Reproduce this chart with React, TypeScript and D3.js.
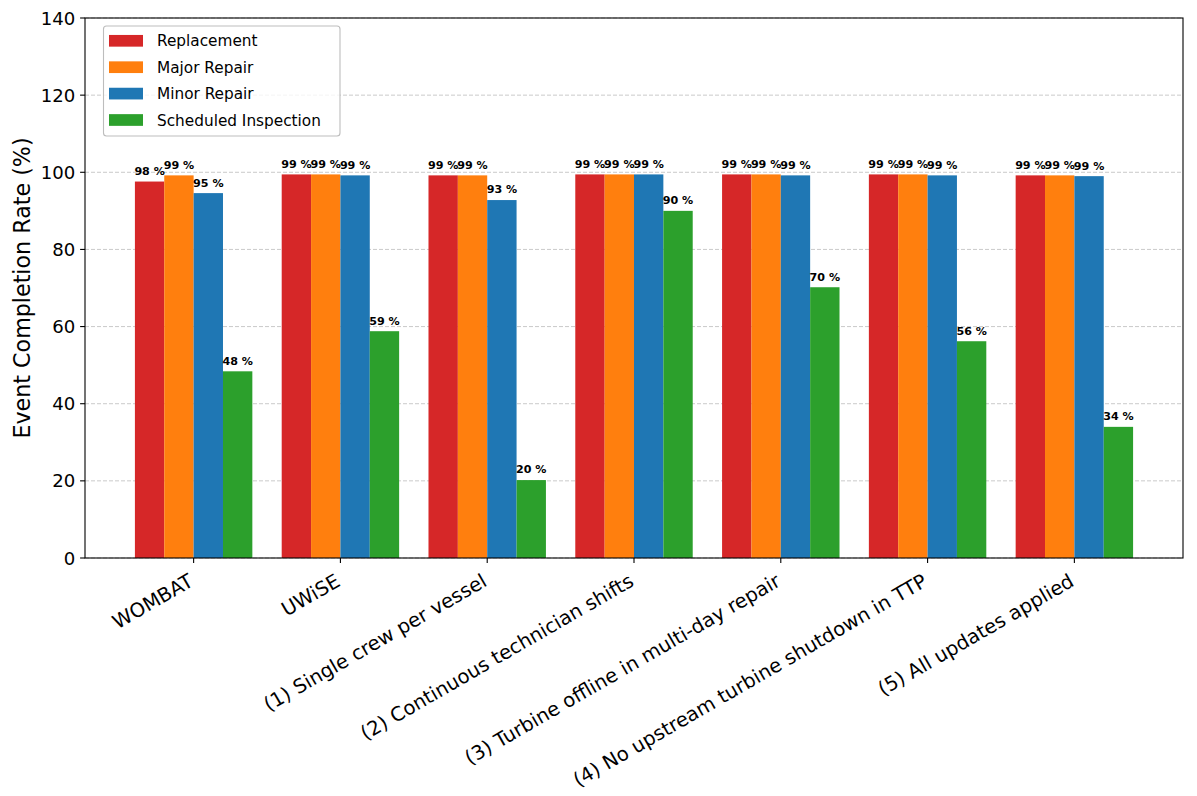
import React from 'react';
import * as d3 from 'd3';

const categories = [
  'WOMBAT',
  'UWiSE',
  '(1) Single crew per vessel',
  '(2) Continuous technician shifts',
  '(3) Turbine offline in multi-day repair',
  '(4) No upstream turbine shutdown in TTP',
  '(5) All updates applied',
];
const seriesNames = ['Replacement', 'Major Repair', 'Minor Repair', 'Scheduled Inspection'];
const seriesColors = ['#d62728', '#ff7f0e', '#1f77b4', '#2ca02c'];
const replacement = [97.6, 99.45, 99.2, 99.45, 99.45, 99.45, 99.2];
const majorRepair = [99.2, 99.45, 99.2, 99.45, 99.45, 99.45, 99.2];
const minorRepair = [94.6, 99.2, 92.8, 99.45, 99.2, 99.2, 99.0];
const scheduledInspection = [48.4, 58.8, 20.2, 90.0, 70.2, 56.2, 34.0];
const yTicks = [0, 20, 40, 60, 80, 100, 120, 140];

const W = 1197;
const H = 796;
const left = 85;
const right = 1183;
const top = 18;
const bottom = 558;
const barW = 0.2;
const FONT = "'DejaVu Sans', sans-serif";

export default function App() {
  const series = [replacement, majorRepair, minorRepair, scheduledInspection];
  const x = d3.scaleLinear().domain([-0.74, categories.length - 1 + 0.74]).range([left, right]);
  const y = d3.scaleLinear().domain([0, 140]).range([bottom, top]);
  const unit = x(1) - x(0);

  return (
    <svg
      width={W}
      height={H}
      style={{ position: 'absolute', left: 0, top: 0, background: '#fff' }}
      fontFamily={FONT}
    >
      <rect x={0} y={0} width={W} height={H} fill="#fff" />
      {/* grid */}
      {yTicks.map((t) => (
        <line
          key={'g' + t}
          x1={left}
          x2={right}
          y1={y(t)}
          y2={y(t)}
          stroke="#b0b0b0"
          strokeOpacity={0.75}
          strokeWidth={0.9}
          strokeDasharray="4,2"
        />
      ))}
      {/* bars */}
      {series.map((vals, s) =>
        vals.map((v, i) => {
          const cx = x(i + (s - 1.5) * barW);
          return (
            <rect
              key={`b${s}-${i}`}
              x={cx - (barW * unit) / 2}
              y={y(v)}
              width={barW * unit}
              height={y(0) - y(v)}
              fill={seriesColors[s]}
            />
          );
        })
      )}
      {/* bar labels */}
      {series.map((vals, s) =>
        vals.map((v, i) => {
          const cx = x(i + (s - 1.5) * barW);
          return (
            <text
              key={`l${s}-${i}`}
              x={cx}
              y={y(v) - 6.6}
              textAnchor="middle"
              fontSize={11.1}
              fontWeight="bold"
              fill="#000"
            >
              {`${Math.round(v)} %`}
            </text>
          );
        })
      )}
      {/* spines */}
      <rect x={left} y={top} width={right - left} height={bottom - top} fill="none" stroke="#000" strokeWidth={1.1} />
      {/* y ticks */}
      {yTicks.map((t) => (
        <g key={'y' + t}>
          <line x1={left - 4.9} x2={left} y1={y(t)} y2={y(t)} stroke="#000" strokeWidth={1.1} />
          <text x={left - 9.8} y={y(t)} dy="0.36em" textAnchor="end" fontSize={18.1} fill="#000">
            {t}
          </text>
        </g>
      ))}
      {/* x ticks */}
      {categories.map((c, i) => (
        <g key={'x' + i}>
          <line x1={x(i)} x2={x(i)} y1={bottom} y2={bottom + 4.9} stroke="#000" strokeWidth={1.1} />
          <text
            transform={`translate(${x(i) + 1},${bottom + 27}) rotate(-30)`}
            textAnchor="end"
            fontSize={19.6}
            fill="#000"
          >
            {c}
          </text>
        </g>
      ))}
      {/* y label */}
      <text
        transform={`translate(${29.5},${(top + bottom) / 2}) rotate(-90)`}
        textAnchor="middle"
        fontSize={22.2}
        fill="#000"
      >
        Event Completion Rate (%)
      </text>
      {/* legend */}
      <g>
        <rect x={103.5} y={26} width={236.5} height={110} rx={3} fill="#fff" fillOpacity={0.8} stroke="#bdbdbd" strokeWidth={1.1} />
        {seriesNames.map((n, k) => {
          const cy = 40.8 + k * 26.4;
          return (
            <g key={'lg' + k}>
              <rect x={109} y={cy - 5.85} width={34} height={11.7} fill={seriesColors[k]} />
              <text x={157} y={cy} dy="0.36em" fontSize={15.3} fill="#000">
                {n}
              </text>
            </g>
          );
        })}
      </g>
    </svg>
  );
}
